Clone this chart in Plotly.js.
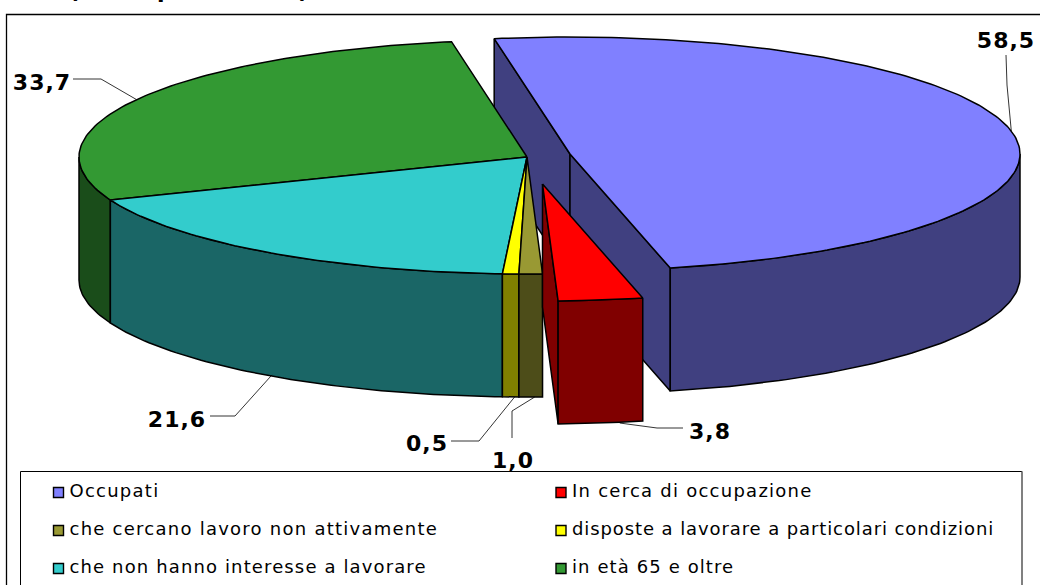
<!DOCTYPE html>
<html><head><meta charset="utf-8">
<script src="https://cdn.plot.ly/plotly-3.0.1.min.js"></script>
<style>html,body{margin:0;padding:0;background:#fff;overflow:hidden}</style>
</head><body><div id="chart" style="width:1040px;height:585px"></div>
<script>
const categories=["Occupati","In cerca di occupazione","che cercano lavoro non attivamente","disposte a lavorare a particolari condizioni","che non hanno interesse a lavorare","in età 65 e oltre"];
const values=[58.5,3.8,1.0,0.5,21.6,33.7];
const valueLabels=["58,5","3,8","1,0","0,5","21,6","33,7"];
const topColors=["#8080FF","#FF0000","#999933","#FFFF00","#33CCCC","#339933"];
const sideColors=["#404080","#800000","#4D4D19","#808000","#1A6666","#1A4D1A"];
const titleText="(valori percentuali)";

// pie geometry
const RY=117,DEPTH=123,START=-9.7;
const MAIN={cx:527,cy:157,rx:448},BLUE={cx:570,cy:154,rx:450},RED={cx:542.5,cy:184,rx:450};
const centers=[BLUE,RED,MAIN,MAIN,MAIN,MAIN];
const endNudge=[0,-0.6,-0.6,0,0,0]; // drawing tweak of a slice's end angle (degrees), as in the 3D projection
const total=values.reduce((a,b)=>a+b,0);
let acc=START;
const spans=values.map((v,i)=>{const s=acc+(i?endNudge[i-1]:0);acc+=v/total*360;return [s,acc+endNudge[i]];});
const rad=d=>d*Math.PI/180;
const pt=(c,t,dz=0)=>[c.cx+c.rx*Math.sin(rad(t)),c.cy-RY*Math.cos(rad(t))+dz];
function arc(c,a,b,dz=0){const n=Math.max(2,Math.ceil(Math.abs(b-a)));const o=[];for(let i=0;i<=n;i++)o.push(pt(c,a+(b-a)*i/n,dz));return o;}
const traces=[];
function poly(points,color){
  const p=points.concat([points[0]]);
  traces.push({type:'scatter',mode:'lines',x:p.map(q=>q[0]),y:p.map(q=>q[1]),fill:'toself',fillcolor:color,
    line:{color:'#000',width:1.5},hoverinfo:'skip',showlegend:false});
}
function wall(c,t,color){const e=pt(c,t);poly([[c.cx,c.cy],e,[e[0],e[1]+DEPTH],[c.cx,c.cy+DEPTH]],color);}
function side(c,a,b,color){
  const lo=Math.max(a,90),hi=Math.min(b,270);
  if(hi<=lo)return;
  poly(arc(c,lo,hi).concat(arc(c,hi,lo,DEPTH)),color);
}
function topFace(c,a,b,color){poly([[c.cx,c.cy]].concat(arc(c,a,b)),color);}

// exploded blue slice: both walls, rim, top
wall(BLUE,spans[0][0],sideColors[0]);
wall(BLUE,spans[0][1],sideColors[0]);
side(BLUE,spans[0][0],spans[0][1],sideColors[0]);
topFace(BLUE,spans[0][0],spans[0][1],topColors[0]);
// main body
for(let i=5;i>=2;i--)side(MAIN,spans[i][0],spans[i][1],sideColors[i]);
for(let i=5;i>=2;i--)topFace(MAIN,spans[i][0],spans[i][1],topColors[i]);
// exploded red slice
wall(RED,spans[1][1],sideColors[1]);
side(RED,spans[1][0],spans[1][1],sideColors[1]);
topFace(RED,spans[1][0],spans[1][1],topColors[1]);

// leader lines start near each slice's mid angle
const anchorShift=[0,19,4,4,7,0];
const anchor=i=>{const m=(spans[i][0]+spans[i][1])/2;const c=centers[i];const p=pt(c,m,(m>90&&m<270)?DEPTH:0);return [p[0]+anchorShift[i],p[1]];};
const leaderRoutes=[[[1007,85],[1006,55]],[[657,428],[683,428]],[[512,411],[512,438]],[[479,441],[451,441]],[[235,416],[210,416]],[[101,79],[73,79]]];
const labelPos=[[1006,42],[710,433.5],[513,462],[427,445.5],[177,421],[42,84]];
leaderRoutes.forEach((r,i)=>{const p=[anchor(i)].concat(r);
  traces.push({type:'scatter',mode:'lines',x:p.map(q=>q[0]),y:p.map(q=>q[1]),line:{color:'#000',width:0.8},hoverinfo:'skip',showlegend:false});});
traces.push({type:'scatter',mode:'text',x:labelPos.map(q=>q[0]),y:labelPos.map(q=>q[1]),text:valueLabels,textposition:'middle center',
  textfont:{family:'DejaVu Sans',size:22,color:'#000',weight:700},hoverinfo:'skip',showlegend:false,cliponaxis:false});

// legend
const legendX=[58.5,561],legendY=[492.5,530.5,568.5];
const legendSpacing=[1.25,1.25,1.25,0.9,1.13,1.1];
const lx=categories.map((_,i)=>legendX[i%2]),ly=categories.map((_,i)=>legendY[Math.floor(i/2)]);
traces.push({type:'scatter',mode:'markers',x:lx,y:ly,marker:{symbol:'square',size:10,color:topColors,line:{color:'#000',width:1.4}},hoverinfo:'skip',showlegend:false});
traces.push({type:'scatter',mode:'text',x:lx.map(v=>v+11),y:ly,text:categories,textposition:'middle right',
  textfont:{family:'DejaVu Sans',size:18,color:'#000'},hoverinfo:'skip',showlegend:false});

const layout={width:1040,height:585,margin:{l:0,r:0,t:0,b:0},paper_bgcolor:'#fff',plot_bgcolor:'#fff',showlegend:false,
  xaxis:{range:[0,1040],visible:false,fixedrange:true},
  yaxis:{range:[585,0],visible:false,fixedrange:true},
  shapes:[
    {type:'rect',x0:6.5,x1:1060,y0:14.5,y1:620,line:{color:'#000',width:1.3},layer:'below'},
    {type:'rect',x0:20.5,x1:1022,y0:471.5,y1:620,line:{color:'#000',width:1},fillcolor:'#fff',layer:'below'},
    {type:'line',x0:1022,x1:1022,y0:471.5,y1:585,line:{color:'#808080',width:1.5},layer:'below'}
  ],
  // the reference's title is cut by the top edge: only its descenders show
  annotations:[{text:titleText,xref:'paper',yref:'paper',x:188/1040,y:1+9.5/585,xanchor:'center',yanchor:'middle',showarrow:false,
    font:{family:'DejaVu Sans',size:22,color:'#000',weight:700}}]
};
Plotly.newPlot('chart',traces,layout,{displayModeBar:false,staticPlot:true}).then(gd=>{
  gd.querySelectorAll('.textpoint text').forEach(t=>{
    const s=t.textContent,k=categories.indexOf(s);
    t.style.letterSpacing=k>=0?legendSpacing[k]+'px':'1px';
  });
});
</script></body></html>
